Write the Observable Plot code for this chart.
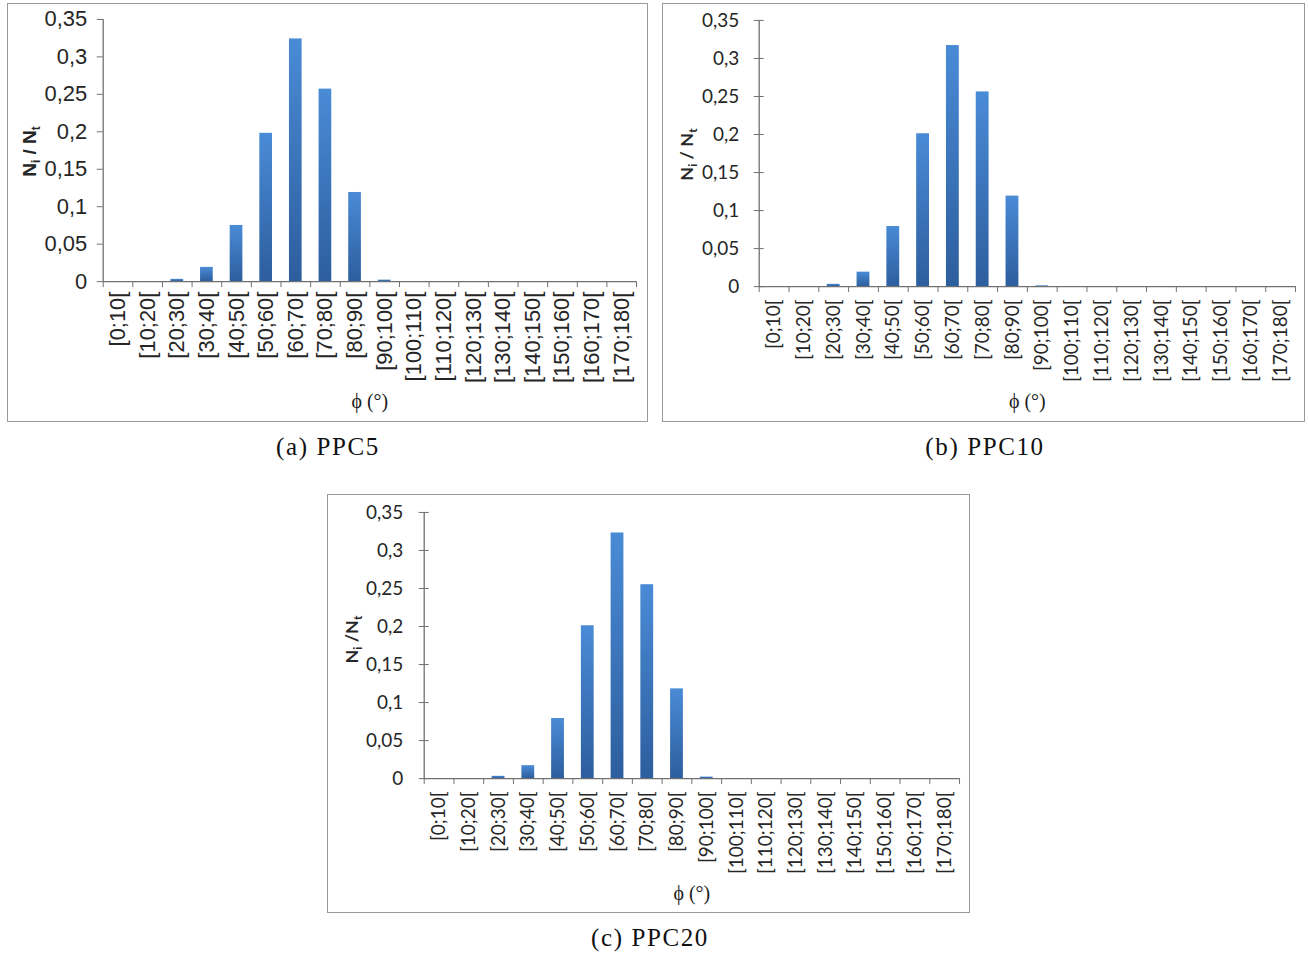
<!DOCTYPE html>
<html><head><meta charset="utf-8">
<script src="https://cdn.jsdelivr.net/npm/d3@7"></script>
<script src="https://cdn.jsdelivr.net/npm/@observablehq/plot@0.6"></script>
<style>
body{margin:0;background:#fff;width:1308px;height:957px;position:relative;overflow:hidden}
.panel{position:absolute;box-sizing:border-box;border:1px solid #9a9a9a;background:#fff}
.panel svg{position:absolute;left:-1px;top:-1px;overflow:visible}
.cap{position:absolute;font-family:"Liberation Serif",serif;font-size:25px;line-height:26px;transform:translateX(-50%);white-space:nowrap;color:#111;letter-spacing:1.6px}
</style></head><body>
<div id="pa" class="panel" style="left:7px;top:3px;width:641px;height:419px"></div>
<div id="pb" class="panel" style="left:662px;top:3px;width:643px;height:419px"></div>
<div id="pc" class="panel" style="left:327px;top:494px;width:643px;height:419px"></div>
<div class="cap" style="left:328px;top:434px">(a) PPC5</div>
<div class="cap" style="left:985px;top:434px">(b) PPC10</div>
<div class="cap" style="left:650px;top:925px">(c) PPC20</div>
<script>
const categories = ["[0;10[", "[10;20[", "[20;30[", "[30;40[", "[40;50[", "[50;60[", "[60;70[", "[70;80[", "[80;90[",
  "[90;100[", "[100;110[", "[110;120[", "[120;130[", "[130;140[", "[140;150[", "[150;160[", "[160;170[", "[170;180["];
const ppc5  = [0, 0, 0.003, 0.019, 0.075, 0.198, 0.324, 0.257, 0.119, 0.002, 0, 0, 0, 0, 0, 0, 0, 0];
const ppc10 = [0, 0, 0.003, 0.019, 0.079, 0.201, 0.317, 0.256, 0.119, 0.001, 0, 0, 0, 0, 0, 0, 0, 0];
const ppc20 = [0, 0, 0.003, 0.017, 0.079, 0.201, 0.323, 0.255, 0.118, 0.002, 0, 0, 0, 0, 0, 0, 0, 0];
const yTicks = [0, 0.05, 0.1, 0.15, 0.2, 0.25, 0.3, 0.35];
const xLabel = "\u03D5 (\u00B0)";
const yfmt = d => d === 0 ? "0" : String(d).replace(".", ",");

function panel(id, values, cfg) {
  const data = categories.map((c, i) => ({c, i, v: values[i]}));
  const plot = Plot.plot({
    width: cfg.width, height: 419,
    marginLeft: cfg.ml, marginRight: cfg.mr, marginTop: cfg.mt, marginBottom: cfg.mb,
    style: {fontFamily: cfg.font, fontSize: cfg.fs + "px", color: "#262626", background: "transparent", overflow: "visible"},
    x: {domain: [0, categories.length], axis: null, label: null},
    y: {domain: [0, 0.35], axis: null, label: null},
    marks: [
      Plot.rectY(data, {x1: "i", x2: d => d.i + 1, y: "v", insetLeft: 8.5, insetRight: 8.5, fill: `url(#grad-${id})`}),
      Plot.ruleX([0], {stroke: "#707070", strokeWidth: 1.3}),
      Plot.ruleY([0], {stroke: "#707070", strokeWidth: 1.3}),
      Plot.axisY(yTicks, {label: null, tickSize: cfg.ytick, dx: cfg.ydx, tickPadding: cfg.ypad, tickFormat: yfmt, stroke: "#707070"}),
      Plot.axisX(d3.range(categories.length + 1), {label: null, tickSize: 6, tickFormat: () => "", stroke: "#707070"}),
      Plot.axisX(categories.map((c, i) => i + 0.5), {label: null, tickSize: 0, tickRotate: -90, tickPadding: cfg.xpad, tickFormat: t => categories[Math.floor(t)]}),
      Plot.text([xLabel], {frameAnchor: "bottom", dy: cfg.xlabDy, lineAnchor: "middle", fontFamily: "Liberation Serif", fontSize: 20, fill: "#222"})
    ]
  });
  const svg = d3.select(plot);
  svg.insert("defs", ":first-child").html(
    `<linearGradient id="grad-${id}" x1="0" y1="0" x2="0" y2="1">
       <stop offset="0" stop-color="#4a8bd6"/>
       <stop offset="1" stop-color="#2d5e9e"/>
     </linearGradient>`);
  const t = svg.append("text")
    .attr("transform", `translate(${cfg.labX},${cfg.labY}) rotate(-90)`)
    .attr("text-anchor", "middle")
    .style("font-family", cfg.font).style("font-weight", "bold").style("font-size", cfg.labFs + "px").attr("fill", "#262626");
  t.append("tspan").text("N");
  t.append("tspan").attr("dy", 4).style("font-size", "12px").text("i");
  t.append("tspan").attr("dy", -4).text(cfg.slash);
  t.append("tspan").attr("dy", 4).style("font-size", "12px").text("t");
  document.getElementById(id).appendChild(plot);
}

panel("pa", ppc5, {width: 641, ml: 96, mr: 10, mt: 16, mb: 140, font: "Liberation Sans", fs: 22,
  ytick: 6, ydx: 0, ypad: 10, xpad: 10, xlabDy: 120, labX: 29, labY: 149, labFs: 19, slash: " / N"});
panel("pb", ppc10, {width: 643, ml: 97, mr: 8, mt: 17, mb: 135, font: "Lato", fs: 19,
  ytick: 10, ydx: 5, ypad: 15, xpad: 13, xlabDy: 115, labX: 31, labY: 152, labFs: 18, slash: " / N"});
panel("pc", ppc20, {width: 643, ml: 97, mr: 9, mt: 18, mb: 134, font: "Lato", fs: 19,
  ytick: 10, ydx: 5, ypad: 16, xpad: 13, xlabDy: 115, labX: 31, labY: 146, labFs: 18, slash: " /N"});
</script>
</body></html>
